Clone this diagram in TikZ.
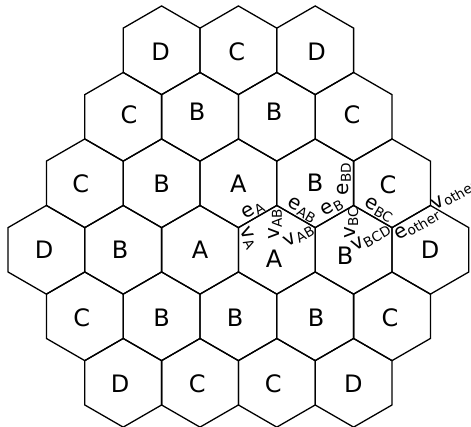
\documentclass[tikz,border=0pt]{standalone}
\usepackage{fontspec}
\setmainfont{DejaVu Sans}

\newcommand{\hexR}{44.34}
\newcommand{\lab}[2]{#1\raisebox{-0.25ex}{\fontsize{6.8}{8}\selectfont #2}}

\begin{document}
\begin{tikzpicture}[x=0.5pt, y=-0.5pt,
    hexline/.style={line width=0.65pt, line join=miter},
    cell/.style={font=\fontsize{12}{14}\selectfont, inner sep=0pt},
    tag/.style={font=\fontsize{10}{12}\selectfont, inner sep=0pt}]
  \useasboundingbox (0,0) rectangle (471,427);
  % Hex grid: row / first centre x / number of cells
  \foreach \r/\xs/\n in {1/161.6/3, 2/123.2/4, 3/84.8/5, 4/46.4/6, 5/84.8/5, 6/123.2/4} {
    \foreach \c in {1,...,\n} {
      \pgfmathsetmacro{\cx}{\xs+(\c-1)*76.8}
      \pgfmathsetmacro{\cy}{50.3+(\r-1)*66.5}
      \draw[hexline, shift={(\cx,\cy)}] (90:\hexR) -- (30:\hexR) -- (-30:\hexR)
        -- (-90:\hexR) -- (-150:\hexR) -- (150:\hexR) -- cycle;
    }
  }
  % Cell colours
  \foreach \nm/\x/\y/\t in {h11/160.7/51.7/D, h12/236.7/51.7/C, h13/316.7/51.7/D,
      h21/129/115/C, h22/197/112/B, h23/274/112/B, h24/352/115/C,
      h31/80.7/184/C, h32/161.7/184/B, h33/238.3/183.3/A, h34/315/183/B, h35/388/185/C,
      h41/44/250/D, h42/120/250/B, h43/200/250/A, h44/274/259/A, h45/345/256/B, h46/430/250/D,
      h51/81.7/317.7/C, h52/161.7/317.7/B, h53/235/317.7/B, h54/316/317.7/B, h55/390/317.7/C,
      h61/120/383.3/D, h62/197.3/383.3/C, h63/273.3/383.3/C, h64/353.3/383.3/D}
    \node[cell] (\nm) at (\x,\y) {\t};
  % Edge and vertex tags along the A/B/C boundary
  \node[tag, rotate=30]  (eA)     at (253,210) {\lab{e}{A}};
  \node[tag, rotate=-62] (vA)     at (248,238) {\lab{v}{A}};
  \node[tag, rotate=90]  (vABup)  at (275,224) {\lab{v}{AB}};
  \node[tag, rotate=-30] (eAB)    at (302,210) {\lab{e}{AB}};
  \node[tag, rotate=30]  (vABlow) at (299,236) {\lab{v}{AB}};
  \node[tag, rotate=30]  (eB)     at (332,207) {\lab{e}{B}};
  \node[tag, rotate=90]  (eBD)    at (344,179) {\lab{e}{BD}};
  \node[tag, rotate=90]  (vBC)    at (351.5,223) {\lab{v}{BC}};
  \node[tag, rotate=-30] (eBC)    at (379,210) {\lab{e}{BC}};
  \node[tag, rotate=30]  (vBCD)   at (371,238) {\lab{v}{BCD}};
  \node[tag, rotate=30]  (eother) at (417,225) {\lab{e}{other}};
  \node[tag, rotate=30]  (vother) at (454,195) {\lab{v}{other}};
\end{tikzpicture}
\end{document}
